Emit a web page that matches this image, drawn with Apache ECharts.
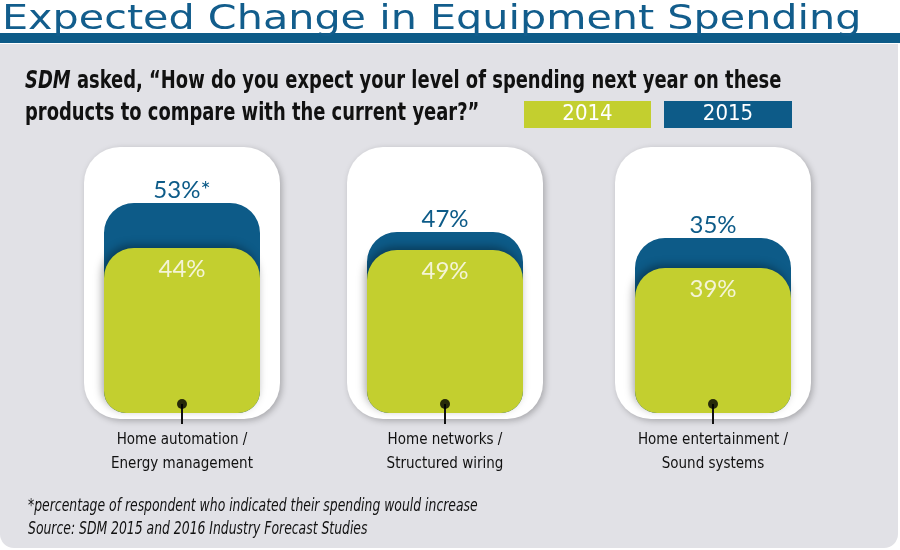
<!DOCTYPE html>
<html>
<head>
<meta charset="utf-8">
<script src="https://cdn.jsdelivr.net/npm/echarts@6/dist/echarts.min.js"></script>
<style>
  html, body { margin: 0; padding: 0; background: #fff; }
  #main { width: 900px; height: 550px; }
</style>
</head>
<body>
<div id="main"></div>
<script>
// data
const categories = ['Home automation /\nEnergy management', 'Home networks /\nStructured wiring', 'Home entertainment /\nSound systems'];
const values2014 = [44, 49, 39];
const values2015 = [53, 47, 35];
const marks2015 = ['*', '', ''];  // footnote marker on label

// layout for the three cards
const centers = [182, 445, 713];
// the source infographic doesn't use one common scale, so each panel gets its own axis max
const axisMax2015 = [66.4, 68.3, 52.6];
const axisMax2014 = [70.1, 79.1, 70.7];

const BLUE = '#0d5b88';
const GREEN = '#c3cf2f';
const NARROW = '"DejaVu Sans Condensed", sans-serif';

const chart = echarts.init(document.getElementById('main'));

const grids = [], xAxes = [], yAxes = [], series = [], cards = [];
centers.forEach(function (c, i) {
  grids.push({ left: c - 80, width: 160, top: 150, bottom: 137 });
  xAxes.push({
    gridIndex: i, type: 'category', data: [categories[i]],
    offset: -9, z: 5,
    axisLine: { show: false },
    axisTick: { show: true, alignWithLabel: true, length: 20, lineStyle: { color: '#111', width: 2 } },
    axisLabel: { margin: 24, color: '#111', fontFamily: NARROW, fontSize: 15, lineHeight: 24, interval: 0 }
  });
  yAxes.push({ gridIndex: i, type: 'value', min: 0, max: axisMax2015[i], show: false });
  yAxes.push({ gridIndex: i, type: 'value', min: 0, max: axisMax2014[i], show: false });
  series.push({
    name: '2015', type: 'bar', xAxisIndex: i, yAxisIndex: 2 * i,
    data: [values2015[i]], barWidth: 156, barGap: '-100%',
    itemStyle: { color: BLUE, borderRadius: [30, 30, 22, 22] },
    label: {
      show: true, position: 'top', distance: 1,
      formatter: function (p) { return p.value + '%' + marks2015[i]; },
      color: BLUE, fontFamily: 'Lato, sans-serif', fontSize: 24
    }
  });
  series.push({
    name: '2014', type: 'bar', xAxisIndex: i, yAxisIndex: 2 * i + 1,
    data: [values2014[i]], barWidth: 156, barGap: '-100%',
    itemStyle: {
      color: GREEN, borderRadius: [30, 30, 22, 22],
      shadowBlur: 8, shadowColor: 'rgba(0,0,0,0.35)', shadowOffsetX: -2, shadowOffsetY: -3
    },
    label: {
      show: true, position: 'insideTop', distance: 9,
      formatter: '{c}%', color: '#f4f4d6', fontFamily: 'Lato, sans-serif', fontSize: 24
    }
  });
  series.push({
    type: 'scatter', xAxisIndex: i, yAxisIndex: 2 * i + 1, data: [0],
    symbol: 'circle', symbolSize: 10, symbolOffset: [0, -9], z: 6,
    itemStyle: { color: '#000' }, silent: true
  });
  cards.push({
    type: 'rect', z: 1,
    shape: { x: c - 98, y: 147, width: 196, height: 272, r: 36 },
    style: { fill: '#fff', shadowBlur: 6, shadowColor: 'rgba(0,0,0,0.25)', shadowOffsetX: 2, shadowOffsetY: 2 }
  });
});

// texts are squeezed / stretched horizontally to get the condensed look of the original
const texts = [
  {
    type: 'text', z: 10, x: 2, y: 20, scaleX: 1.215,
    style: { text: 'Expected Change in Equipment Spending', fill: '#125d8c', font: '34px "DejaVu Sans", sans-serif', verticalAlign: 'middle' }
  },
  {
    type: 'text', z: 10, x: 25, y: 65, scaleX: 0.797,
    style: {
      text: '{i|SDM} asked, \u201cHow do you expect your level of spending next year on these\nproducts to compare with the current year?\u201d',
      fill: '#111', font: 'bold 25px ' + NARROW, lineHeight: 32, verticalAlign: 'top',
      rich: { i: { fontStyle: 'italic', fontWeight: 'bold', fontFamily: NARROW, fontSize: 25, lineHeight: 32, fill: '#111' } }
    }
  },
  {
    type: 'text', z: 10, x: 28, y: 495, scaleX: 0.766,
    style: {
      text: '*percentage of respondent who indicated their spending would increase\nSource: SDM 2015 and 2016 Industry Forecast Studies',
      fill: '#111', font: 'italic 18px ' + NARROW, lineHeight: 23, verticalAlign: 'top'
    }
  }
];

const option = {
  backgroundColor: '#fff',
  animation: false,
  legend: {
    left: 514, top: 96, itemWidth: 0, itemHeight: 0, itemGap: 8,
    selectedMode: false, icon: 'none',
    data: ['2014', '2015'],
    formatter: function (name) { return '{' + (name === '2014' ? 'g' : 'b') + '|' + name + '}'; },
    textStyle: {
      rich: {
        g: { backgroundColor: GREEN, color: '#fff', width: 127, height: 27, lineHeight: 27, align: 'center', fontSize: 22, fontFamily: NARROW },
        b: { backgroundColor: BLUE, color: '#fff', width: 128, height: 27, lineHeight: 27, align: 'center', fontSize: 22, fontFamily: NARROW }
      }
    }
  },
  graphic: [
    { type: 'rect', z: -10, shape: { x: 0, y: 44, width: 898, height: 504, r: [0, 0, 14, 14] }, style: { fill: '#e1e1e6' } },
    { type: 'rect', z: -10, shape: { x: 0, y: 33, width: 900, height: 10 }, style: { fill: BLUE } }
  ].concat(cards, texts),
  grid: grids,
  xAxis: xAxes,
  yAxis: yAxes,
  series: series
};

chart.setOption(option);
</script>
</body>
</html>
